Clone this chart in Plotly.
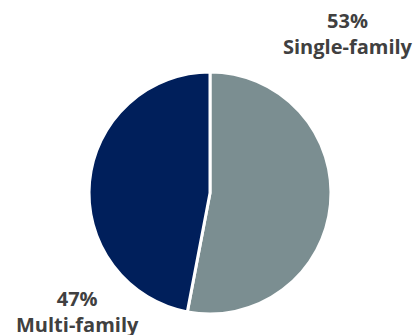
import plotly.graph_objects as go

# Housing type shares
categories = ["Single-family", "Multi-family"]
shares = [53, 47]
colors = ["#7b8e91", "#001f5b"]

fig = go.Figure(
    go.Pie(
        labels=categories,
        values=shares,
        sort=False,
        direction="clockwise",
        rotation=0,
        marker=dict(colors=colors, line=dict(color="white", width=3)),
        textinfo="none",
        hoverinfo="label+percent",
        domain=dict(x=[0.2119, 0.7881], y=[0.0627, 0.785]),
        showlegend=False,
    )
)

label_font = dict(family="Open Sans, sans-serif", size=20, color="#404040")
label_pos = {
    "Single-family": (348, 34),
    "Multi-family": (77, 311),
}
for name, val in zip(categories, shares):
    px, py = label_pos[name]
    fig.add_annotation(
        x=px / 420,
        y=1 - py / 335,
        xref="paper",
        yref="paper",
        text=f"<b>{val}%</b><br><b>{name}</b>",
        showarrow=False,
        font=label_font,
        align="center",
        xanchor="center",
        yanchor="middle",
    )

fig.update_layout(
    width=420,
    height=335,
    margin=dict(l=0, r=0, t=0, b=0),
    paper_bgcolor="white",
    plot_bgcolor="white",
)

fig.write_html("out.html")
